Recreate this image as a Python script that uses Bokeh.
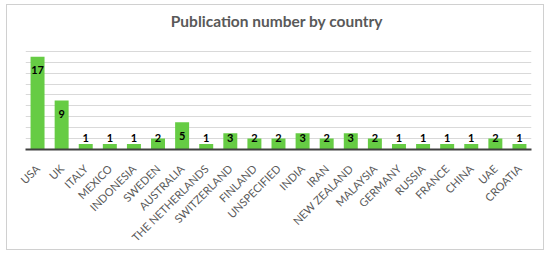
import math
from bokeh.plotting import figure
from bokeh.models import ColumnDataSource, FactorRange, Range1d, FixedTicker, Label
from bokeh.core.properties import value
from bokeh.embed import file_html
from bokeh.resources import INLINE

countries = ["USA", "UK", "ITALY", "MEXICO", "INDONESIA", "SWEDEN", "AUSTRALIA",
             "THE NETHERLANDS", "SWITZERLAND", "FINLAND", "UNSPECIFIED", "INDIA",
             "IRAN", "NEW ZEALAND", "MALAYSIA", "GERMANY", "RUSSIA", "FRANCE",
             "CHINA", "UAE", "CROATIA"]
counts = [17, 9, 1, 1, 1, 2, 5, 1, 3, 2, 2, 3, 2, 3, 2, 1, 1, 1, 1, 2, 1]
grid_ticks = [2, 4, 6, 8, 10, 12, 14, 16, 18]
y_axis_max = 18
title_text = "Publication number by country"

# data label placement: inside the top of the bar, but not lower than a minimum height
label_y = [max(v - 2.45, 2.1) for v in counts]

src = ColumnDataSource(dict(country=countries, count=counts,
                            label=[str(v) for v in counts], label_y=label_y))

W, H = 538, 246
BL, BR, BB = 18, 14, 95
TITLE_SPACE = 48                      # pixels between frame top and the top gridline
frame_h = H - BB
y_top = y_axis_max * frame_h / (frame_h - TITLE_SPACE)

p = figure(x_range=FactorRange(*countries), y_range=Range1d(0, y_top),
           width=W, height=H, output_backend="svg", toolbar_location=None,
           min_border_left=BL, min_border_right=BR, min_border_top=0,
           min_border_bottom=BB)
p.title.visible = False
p.styles = {"border": "1px solid #d0d0d0", "margin-left": "6px", "margin-top": "4px"}

# title (screen units are relative to the plot frame's bottom-left corner)
p.add_layout(Label(x=269.5 - BL, y=frame_h - 22, x_units="screen", y_units="screen",
                   text=title_text, text_align="center", text_baseline="middle",
                   text_font="Lato", text_font_size="15.5px",
                   text_font_style="bold", text_color="#595959"))

p.vbar(x="country", top="count", width=0.58, source=src,
       fill_color="#66CC44", line_color=None)
p.text(x="country", y="label_y", text="label", source=src,
       text_align="center", text_baseline="middle",
       text_font=value("Lato"), text_font_size="11px",
       text_font_style="bold", text_color="#000000")

p.outline_line_color = None
p.xgrid.grid_line_color = None
p.ygrid.ticker = FixedTicker(ticks=grid_ticks)
p.ygrid.grid_line_color = "#d9d9d9"
p.ygrid.grid_line_width = 1
p.yaxis.visible = False

ax = p.xaxis[0]
ax.axis_line_color = "#404040"
ax.axis_line_width = 2
ax.major_tick_line_color = None
ax.minor_tick_line_color = None
ax.major_label_orientation = math.pi / 4
ax.major_label_text_font = "Lato"
ax.major_label_text_font_size = "11px"
ax.major_label_text_color = "#595959"
ax.major_label_standoff = 11

open("out.html", "w").write(file_html(p, INLINE))
